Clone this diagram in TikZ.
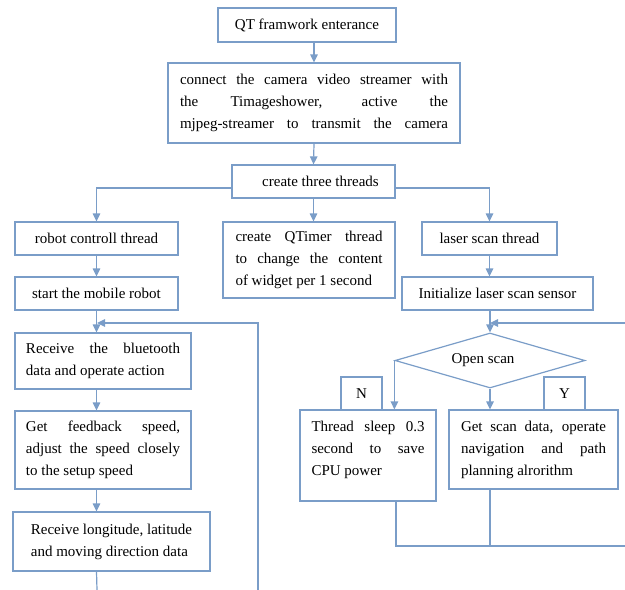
\documentclass[tikz,border=0pt]{standalone}
\usepackage{fontspec}
\setmainfont{Liberation Serif}
\usetikzlibrary{arrows.meta,shapes.geometric}
\definecolor{lc}{RGB}{122,157,200}
\newcommand{\jl}[2]{\makebox[#1][s]{#2}}
\begin{document}
\begin{tikzpicture}[x=1pt,y=-1pt,
  bx/.style={draw=lc,line width=1.2pt,fill=white,inner sep=0pt,font=\fontsize{15}{22}\selectfont,align=left},
  ln/.style={draw=lc,line width=1.2pt},
  arr/.style={ln,-{Triangle[length=8pt,width=7.5pt]}}]
\useasboundingbox (0,0) rectangle (625,590);
% boxes
\node[bx,minimum width=178,minimum height=34] (qt) at (307,25) {QT framwork enterance};
\node[bx,minimum width=292,minimum height=80] (cam) at (314,103) {\jl{268pt}{connect the camera video streamer with}\\\jl{268pt}{the Timageshower, active the}\\\jl{268pt}{mjpeg-streamer to transmit the camera}};
\node[bx,minimum width=163,minimum height=33] (thr) at (313.5,181.5) {\hspace{14pt}create three threads};
\node[bx,minimum width=163,minimum height=33] (robot) at (96.5,238.5) {robot controll thread};
\node[bx,minimum width=163,minimum height=33] (start) at (96.5,293.5) {start the mobile robot};
\node[bx,minimum width=172,minimum height=76] (qtm) at (309,260) {\jl{147pt}{create QTimer thread}\\\jl{147pt}{to change the content}\\of widget per 1 second};
\node[bx,minimum width=135,minimum height=33] (laser) at (489.5,238.5) {laser scan thread};
\node[bx,minimum width=191,minimum height=33] (init) at (497.5,293.5) {Initialize laser scan sensor};
\node[bx,minimum width=176,minimum height=56] (bt) at (103,361) {\jl{154pt}{Receive the bluetooth}\\data and operate action};
\node[bx,minimum width=176,minimum height=78] (fb) at (103,450) {\jl{154pt}{Get feedback speed,}\\\jl{154pt}{adjust the speed closely}\\to the setup speed};
\node[bx,minimum width=197,minimum height=59] (lon) at (111.5,541.5) {Receive longitude, latitude\\and moving direction data};
\node[bx,shape=diamond,aspect=3.45,minimum width=190,minimum height=55] (dia) at (490,360.5) {\hspace{-14pt}Open scan};
\node[bx,minimum width=41,minimum height=33] (nlab) at (361.5,393.5) {N};
\node[bx,minimum width=41,minimum height=33] (ylab) at (564.5,393.5) {Y};
\node[bx,minimum width=136,minimum height=91,text depth=14pt] (sleep) at (368,455.5) {\jl{113pt}{Thread sleep 0.3}\\\jl{113pt}{second to save}\\CPU power};
\node[bx,minimum width=169,minimum height=79] (gs) at (533.5,449.5) {\jl{145pt}{Get scan data, operate}\\\jl{145pt}{navigation and path}\\planning alrorithm};
% free ends
\coordinate (lend) at (97,590);
\coordinate (lpb) at (258,590);
\coordinate (lj) at (97,323);
\coordinate (rin) at (625,323);
\coordinate (bj) at (396,546);
\coordinate (bR) at (625,546);
% connectors
\draw[arr] (cam.north |- qt.south) -- (cam.north);
\draw[arr] (cam.south) -- (thr.north);
\draw[arr] ([yshift=-6.5pt]thr.west) -| (robot.north);
\draw[arr] ([yshift=-6.5pt]thr.east) -| (laser.north);
\draw[arr] (thr.south) -- (thr.south |- qtm.north);
\draw[arr] (robot.south) -- (start.north);
\draw[arr] (laser.south) -- (laser.south |- init.north);
\draw[arr] (start.south) -- (start.south |- bt.north);
\draw[arr] (start.south |- bt.south) -- (start.south |- fb.north);
\draw[arr] (start.south |- fb.south) -- (start.south |- lon.north);
\draw[ln] (start.south |- lon.south) -- (lend);
\draw[arr] (lpb) |- (lj);
\draw[arr] (dia.north |- init.south) -- (dia.north);
\draw[arr] (rin) -- (dia.north |- rin);
\draw[arr] (dia.west) -- (dia.west |- sleep.north);
\draw[arr] (dia.south) -- (dia.south |- gs.north);
\draw[ln] (bj |- sleep.south) -- (bj) -- (bR);
\draw[ln] (dia.south |- gs.south) -- (dia.south |- bj);
\end{tikzpicture}
\end{document}
